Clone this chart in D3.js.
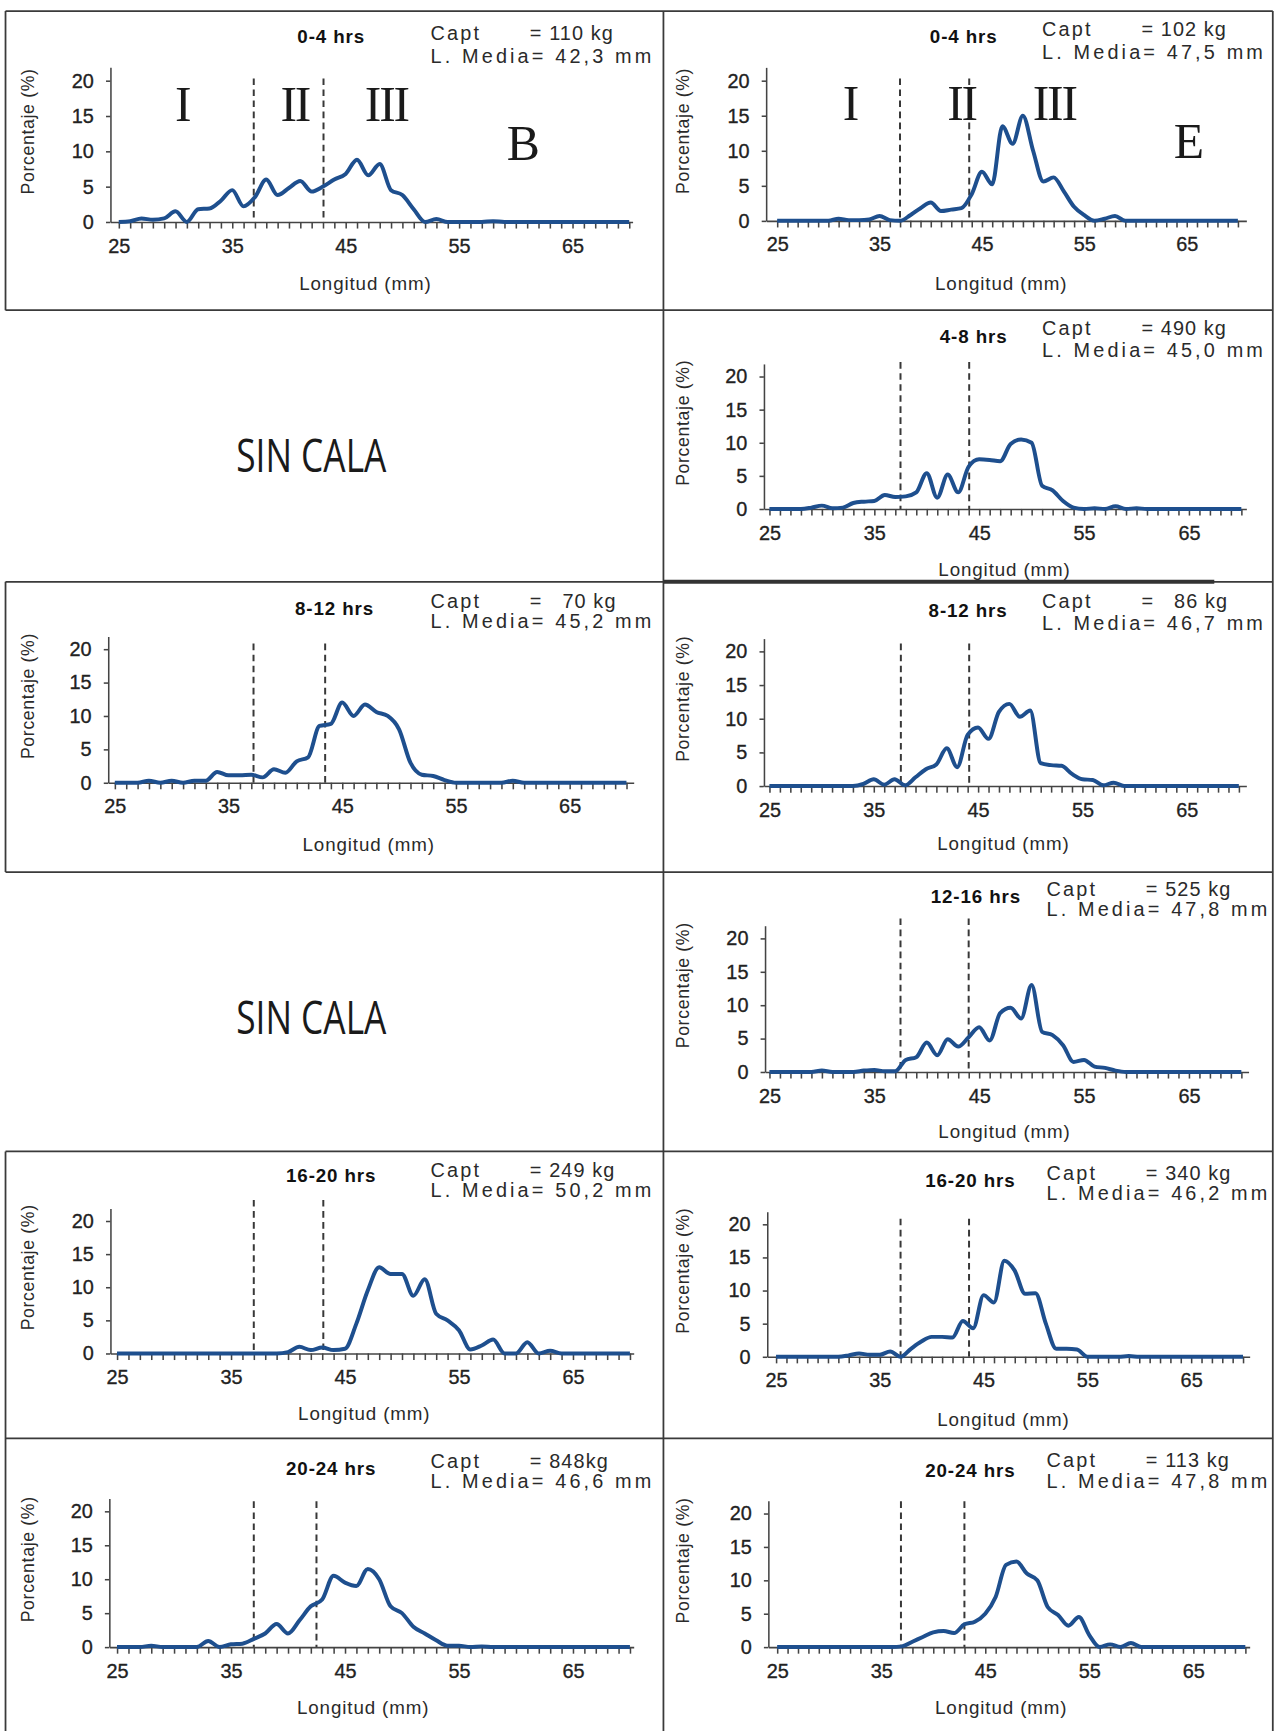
<!DOCTYPE html>
<html>
<head>
<meta charset="utf-8">
<script src="https://cdn.jsdelivr.net/npm/d3@7"></script>
<style>
body { margin: 0; background: #fff; }
svg { display: block; }
text { font-family: "Liberation Sans", Arial, sans-serif; fill: #2a2a2a; }
</style>
</head>
<body>
<svg id="fig" width="1275" height="1731" viewBox="0 0 1155 1568"></svg>
<script>
// longitud classes, mm
let lengths = d3.range(25, 71)
let xTicks = [25, 35, 45, 55, 65]
let yTicks = [0, 5, 10, 15, 20]

let periods = ["0-4 hrs", "0-4 hrs", "4-8 hrs", "8-12 hrs", "8-12 hrs", "12-16 hrs", "16-20 hrs", "16-20 hrs", "20-24 hrs", "20-24 hrs"]
let captValues = ["= 110 kg", "= 102 kg", "= 490 kg", "=   70 kg", "=   86 kg", "= 525 kg", "= 249 kg", "= 340 kg", "= 848kg", "= 113 kg"]
let mediaValues = ["42,3 mm", "47,5 mm", "45,0 mm", "45,2 mm", "46,7 mm", "47,8 mm", "50,2 mm", "46,2 mm", "46,6 mm", "47,8 mm"]

// class limits (dashed lines), mm
let limits = [[36.9, 43.05], [37.0, 43.76], [37.5, 44.05], [37.2, 43.5], [37.6, 44.15],
              [37.5, 44.0], [37.0, 43.1], [37.0, 43.6], [37.0, 42.5], [36.9, 43.0]]

// porcentaje per mm, 25..70
let sB04 = [0, 0.1, 0.5, 0.3, 0.5, 1.5, 0, 1.8, 1.9, 3.0, 4.5, 2.2, 3.5, 6.0, 3.8, 4.8, 5.8, 4.3, 5.0, 6.0, 6.8, 8.8, 6.6, 8.2, 4.5, 3.8, 1.8, 0, 0.4, 0, 0, 0, 0, 0.1,
            0, 0, 0, 0, 0, 0, 0, 0, 0, 0, 0, 0]
let sE04 = [0, 0, 0, 0, 0, 0, 0.3, 0.1, 0.1, 0.2, 0.7, 0.1, 0, 0.8, 1.8, 2.6, 1.4, 1.6, 1.8, 3.8, 7.0, 5.2, 13.5, 11.0, 15.0, 10.0, 5.6, 6.2, 4.2, 2.0, 0.8, 0, 0.3, 0.7, 0,
            0, 0, 0, 0, 0, 0, 0, 0, 0, 0, 0]
let sE48 = [0, 0, 0, 0, 0.2, 0.5, 0.1, 0.2, 0.9, 1.1, 1.2, 2.1, 1.8, 1.9, 2.5, 5.4, 1.7, 5.2, 2.5, 6.4, 7.5, 7.4, 7.2, 9.8, 10.5, 10.0, 3.5, 2.8, 1.2, 0.2, 0, 0.1, 0, 0.4, 0, 0.1,
            0, 0, 0, 0, 0, 0, 0, 0, 0, 0]
let sB812 = [0, 0, 0, 0.3, 0, 0.3, 0, 0.3, 0.3, 1.6, 1.1, 1.1, 1.2, 0.8, 2.0, 1.5, 3.2, 3.8, 8.5, 8.8, 12.0, 10.0, 11.7, 10.6, 10.0, 8.0, 3.0, 1.2, 1.0, 0.4, 0, 0, 0, 0, 0, 0.3,
             0, 0, 0, 0, 0, 0, 0, 0, 0, 0]
let sE812 = [0, 0, 0, 0, 0, 0, 0, 0, 0, 0.3, 1.0, 0.2, 1.0, 0.1, 1.3, 2.5, 3.2, 5.6, 2.8, 7.6, 8.7, 7.0, 11.0, 12.2, 10.3, 11.2, 3.4, 3.1, 3.0, 1.8, 1.0, 0.9, 0.1, 0.5, 0,
             0, 0, 0, 0, 0, 0, 0, 0, 0, 0, 0]
let sE1216 = [0, 0, 0, 0, 0, 0.2, 0, 0, 0, 0.2, 0.3, 0.1, 0.1, 1.8, 2.2, 4.4, 2.5, 4.9, 3.8, 5.2, 6.7, 4.7, 8.8, 9.6, 8.0, 13.0, 6.0, 5.5, 4.0, 1.5, 1.8, 0.8, 0.6, 0.2, 0,
              0, 0, 0, 0, 0, 0, 0, 0, 0, 0, 0]
let sB1620 = [0, 0, 0, 0, 0, 0, 0, 0, 0, 0, 0, 0, 0, 0, 0, 0.2, 1.0, 0.5, 0.9, 0.5, 0.7, 4.5, 9.5, 13.0, 12.0, 12.0, 8.7, 11.2, 6.0, 5.0, 3.5, 0.6, 1.2, 2.1, 0, 0, 1.7, 0, 0.4, 0,
              0, 0, 0, 0, 0, 0]
let sE1620 = [0, 0, 0, 0, 0, 0, 0, 0.2, 0.5, 0.3, 0.3, 0.8, 0, 1.2, 2.3, 3.0, 3.0, 2.9, 5.4, 4.3, 9.3, 8.2, 14.5, 13.0, 9.5, 9.6, 5.0, 1.2, 1.2, 1.1, 0, 0, 0, 0, 0.1,
              0, 0, 0, 0, 0, 0, 0, 0, 0, 0, 0]
let sB2024 = [0, 0, 0, 0.2, 0, 0, 0, 0, 0.9, 0, 0.4, 0.5, 1.2, 2.0, 3.4, 2.0, 3.9, 6.0, 7.0, 10.5, 9.5, 9.0, 11.5, 10.0, 6.0, 5.0, 3.0, 2.0, 1.0, 0.2, 0.2, 0, 0.1,
              0, 0, 0, 0, 0, 0, 0, 0, 0, 0, 0, 0, 0]
let sE2024 = [0, 0, 0, 0, 0, 0, 0, 0, 0, 0, 0, 0, 0.1, 0.8, 1.5, 2.2, 2.4, 2.1, 3.4, 3.8, 5.0, 7.5, 12.3, 12.8, 11.0, 10.0, 6.0, 4.8, 3.2, 4.5, 1.8, 0, 0.4, 0, 0.6, 0,
              0, 0, 0, 0, 0, 0, 0, 0, 0, 0]

let series = [sB04, sE04, sE48, sB812, sE812, sE1216, sB1620, sE1620, sB2024, sE2024]

// where each small chart sits in the page (viewBox units)
let layout = [
    {ax: 100, end: 573, x25: 107.6, x65: 518.6, y0: 201, y20: 73, dt: 71, tx: 300, ty: 39, cx: 390, cy: 36, my: 57, lx: 331, ly: 263, ylx: 25},
    {ax: 694, end: 1129, x25: 704, x65: 1075, y0: 200, y20: 73, dt: 71, tx: 873, ty: 39, cx: 944, cy: 33, my: 53, lx: 907, ly: 263, ylx: 619},
    {ax: 692, end: 1129, x25: 697, x65: 1077, y0: 461, y20: 341, dt: 328, tx: 882, ty: 311, cx: 944, cy: 303, my: 323, lx: 910, ly: 522, ylx: 619},
    {ax: 98, end: 574, x25: 104, x65: 516, y0: 709, y20: 588, dt: 583, tx: 303, ty: 557, cx: 390, cy: 551, my: 569, lx: 334, ly: 771, ylx: 25},
    {ax: 692, end: 1129, x25: 697, x65: 1075, y0: 712, y20: 590, dt: 583, tx: 877, ty: 559, cx: 944, cy: 551, my: 571, lx: 909, ly: 770, ylx: 619},
    {ax: 693, end: 1131, x25: 697, x65: 1077, y0: 971, y20: 850, dt: 832, tx: 884, ty: 818, cx: 948, cy: 812, my: 830, lx: 910, ly: 1031, ylx: 619},
    {ax: 100, end: 574, x25: 106, x65: 519, y0: 1226, y20: 1106, dt: 1087, tx: 300, ty: 1071, cx: 390, cy: 1066, my: 1084, lx: 330, ly: 1286, ylx: 25},
    {ax: 695, end: 1132, x25: 703, x65: 1079, y0: 1229, y20: 1109, dt: 1104, tx: 879, ty: 1075, cx: 948, cy: 1069, my: 1087, lx: 909, ly: 1292, ylx: 619},
    {ax: 99, end: 574, x25: 106, x65: 519, y0: 1492, y20: 1369, dt: 1360, tx: 300, ty: 1336, cx: 390, cy: 1330, my: 1348, lx: 329, ly: 1553, ylx: 25},
    {ax: 696, end: 1132, x25: 704, x65: 1081, y0: 1492, y20: 1371, dt: 1360, tx: 879, ty: 1338, cx: 948, cy: 1329, my: 1348, lx: 907, ly: 1553, ylx: 619}
]

let svg = d3.select("#fig")

// table frame
let thin = [
    [5, 10, 1153, 10], [5, 281, 1153, 281], [5, 527, 1153, 527], [5, 790, 1153, 790],
    [5, 1043, 1153, 1043], [5, 1303, 1153, 1303],
    [5, 10, 5, 281], [5, 527, 5, 790], [5, 1043, 5, 1568],
    [601, 10, 601, 1568], [1153, 10, 1153, 1568]
]
svg.selectAll("line.frame")
    .data(thin)
    .enter()
    .append("line")
    .attr("x1", d => d[0]).attr("y1", d => d[1])
    .attr("x2", d => d[2]).attr("y2", d => d[3])
    .attr("stroke", "#3a3a3a")
    .attr("stroke-width", 1.6)
svg.append("line")
    .attr("x1", 601).attr("x2", 1100).attr("y1", 527).attr("y2", 527)
    .attr("stroke", "#333").attr("stroke-width", 3.5)

// empty slots
svg.selectAll("text.sin")
    .data([428, 937])
    .enter()
    .append("text")
    .attr("x", 214).attr("y", d => d)
    .attr("textLength", 136).attr("lengthAdjust", "spacingAndGlyphs")
    .style("font-family", "'Open Sans', 'DejaVu Sans Condensed', sans-serif")
    .style("font-size", "42px")
    .style("fill", "#1a1a1a")
    .text("SIN CALA")

function drawPanel(p, i) {
    let g = svg.append("g")
    let k = (p.x65 - p.x25) / 40
    let x = d3.scaleLinear()
        .domain([25 + (p.ax - p.x25) / k, 25 + (p.end - p.x25) / k])
        .range([p.ax, p.end])
    let yTop = 21.9
    let y = d3.scaleLinear()
        .domain([0, yTop])
        .range([p.y0, p.y0 - (p.y0 - p.y20) * yTop / 20])

    // dashed class limits
    g.selectAll("line.lim")
        .data(limits[i])
        .enter()
        .append("line")
        .attr("x1", d => x(d)).attr("x2", d => x(d))
        .attr("y1", p.dt).attr("y2", p.y0)
        .attr("stroke", "#383838")
        .attr("stroke-width", 1.8)
        .attr("stroke-dasharray", "6,4")

    let yAxis = d3.axisLeft(y)
        .tickValues(yTicks)
        .tickSize(4)
        .tickSizeOuter(0)
        .tickPadding(11)
    let ya = g.append("g")
        .attr("transform", `translate(${p.ax},0)`)
        .call(yAxis)
    ya.selectAll("text").style("font-size", "18px").style("fill", "#222")
        .style("stroke", "#222").style("stroke-width", 0.3)

    let minor = d3.axisBottom(x)
        .tickValues(lengths)
        .tickSize(6)
        .tickSizeOuter(0)
        .tickFormat("")
    g.append("g")
        .attr("transform", `translate(0,${p.y0})`)
        .call(minor)

    let xAxis = d3.axisBottom(x)
        .tickValues(xTicks)
        .tickSize(0)
        .tickPadding(15)
    let xa = g.append("g")
        .attr("transform", `translate(0,${p.y0})`)
        .call(xAxis)
    xa.select(".domain").remove()
    xa.selectAll("text").style("font-size", "18px").style("fill", "#222")
        .style("stroke", "#222").style("stroke-width", 0.3)

    g.selectAll(".domain, .tick line").attr("stroke", "#444").attr("stroke-width", 1.4)

    let line = d3.line()
        .x((d, j) => x(lengths[j]))
        .y(d => y(d))
        .curve(d3.curveMonotoneX)
    g.append("path")
        .datum(series[i])
        .attr("d", line)
        .attr("fill", "none")
        .attr("stroke", "#1e4f8e")
        .attr("stroke-width", 3.6)
        .attr("stroke-linejoin", "round")

    g.append("text")
        .attr("x", p.tx).attr("y", p.ty)
        .attr("text-anchor", "middle")
        .style("font-size", "17px").style("font-weight", "bold").style("letter-spacing", "0.8px")
        .style("fill", "#111")
        .text(periods[i])

    g.append("text")
        .attr("x", p.cx).attr("y", p.cy)
        .style("font-size", "18px").style("letter-spacing", "2px")
        .text("Capt")
    g.append("text")
        .attr("x", p.cx + 90).attr("y", p.cy)
        .attr("xml:space", "preserve")
        .style("white-space", "pre")
        .style("font-size", "18px").style("letter-spacing", "1px")
        .text(captValues[i])
    g.append("text")
        .attr("x", p.cx).attr("y", p.my)
        .attr("textLength", 200).attr("lengthAdjust", "spacing")
        .style("font-size", "18px")
        .text("L. Media= " + mediaValues[i])

    g.append("text")
        .attr("x", p.lx).attr("y", p.ly)
        .attr("text-anchor", "middle")
        .style("font-size", "17px").style("letter-spacing", "0.8px")
        .text("Longitud (mm)")

    let yc = (p.y0 + p.y20) / 2 - 18
    g.append("text")
        .attr("transform", `translate(${p.ylx},${yc}) rotate(-90)`)
        .attr("text-anchor", "middle")
        .attr("dy", "0.35em")
        .style("font-size", "16px").style("letter-spacing", "0.6px")
        .text("Porcentaje (%)")
}

layout.forEach(drawPanel)

// roman numerals for the size groups and the zone letters
let romans = [
    {t: "I", x: 165, y: 110}, {t: "II", x: 267, y: 110}, {t: "III", x: 350, y: 110}, {t: "B", x: 473, y: 145},
    {t: "I", x: 770, y: 109}, {t: "II", x: 871, y: 109}, {t: "III", x: 955, y: 109}, {t: "E", x: 1076, y: 143}
]
svg.selectAll("text.roman")
    .data(romans)
    .enter()
    .append("text")
    .attr("x", d => d.x).attr("y", d => d.y)
    .attr("text-anchor", "middle")
    .style("font-family", "'Liberation Serif', 'DejaVu Serif', serif")
    .style("font-size", "45px")
    .style("letter-spacing", "-2px")
    .style("fill", "#1a1a1a")
    .text(d => d.t)
</script>
</body>
</html>
